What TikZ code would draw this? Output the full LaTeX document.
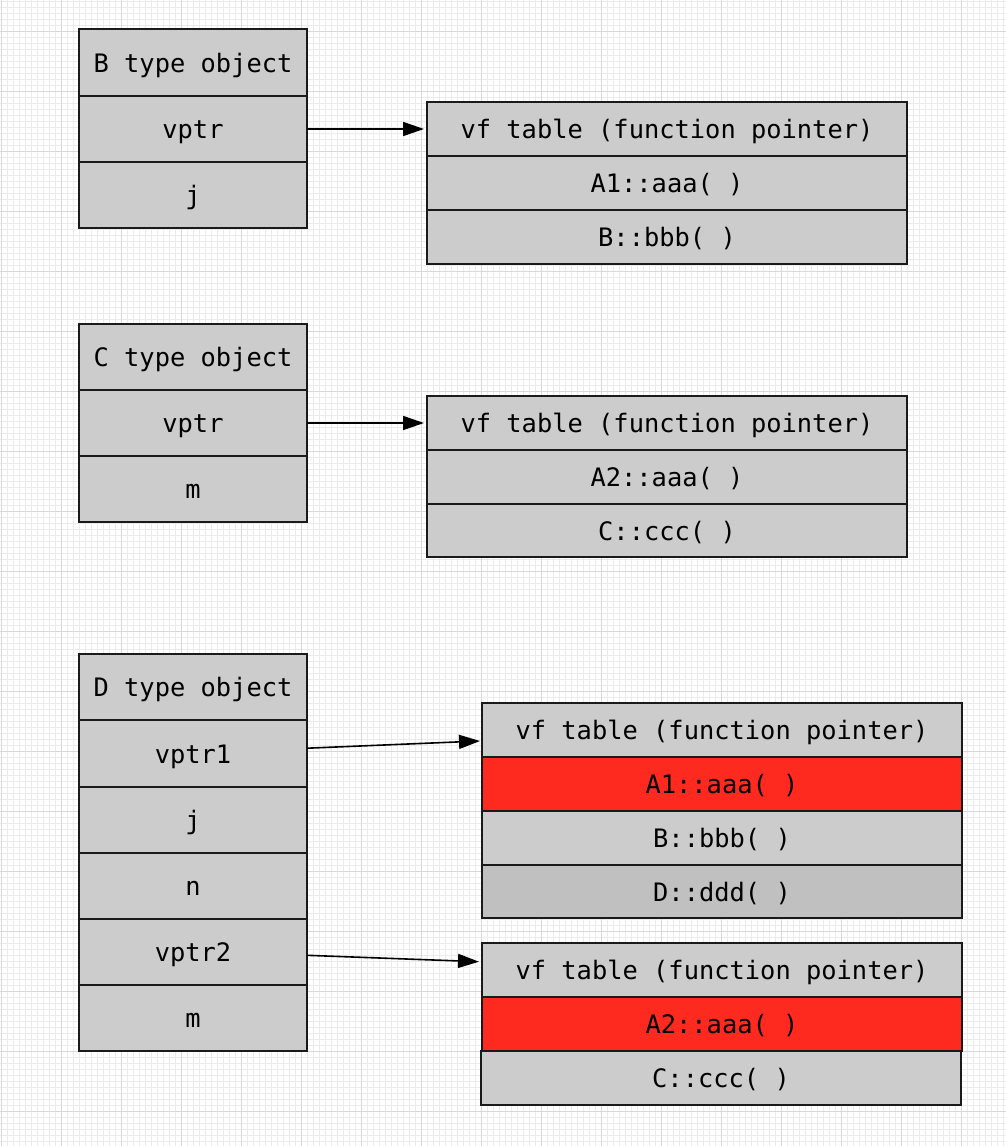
\documentclass[tikz,border=0pt]{standalone}
\usepackage{fontspec}
\setmonofont{DejaVu Sans Mono}
\usetikzlibrary{arrows.meta}
\definecolor{cellgray}{HTML}{CCCCCC}
\definecolor{cellgrayd}{HTML}{C0C0C0}
\definecolor{cellred}{HTML}{FF2A1F}
\definecolor{edgec}{HTML}{1A1A1A}
\definecolor{gridminor}{HTML}{EBEBEB}
\definecolor{gridmajor}{HTML}{D8D8D8}
\tikzset{
  cell/.style={draw=edgec, line width=1.8pt, fill=cellgray, rectangle, anchor=north west,
    inner sep=0pt, outer sep=0pt, font=\ttfamily\fontsize{25.4}{30}\selectfont,
    text height=20pt, text depth=1pt, align=center},
  objcell/.style={cell, minimum width=228pt, minimum height=66pt},
  tabcell/.style={cell, minimum width=480pt, minimum height=54pt},
  redcell/.style={fill=cellred},
  darkcell/.style={fill=cellgrayd},
  ptr/.style={draw=black, line width=1.6pt, -{Triangle[length=21pt,width=14pt]}}
}
\begin{document}
\begin{tikzpicture}[x=1pt,y=-1pt]
\useasboundingbox (0,0) rectangle (1006,1146);
\fill[white] (0,0) rectangle (1006,1146);
% grid
\foreach \i in {0,...,168} {\draw[gridminor, line width=1pt] ({6*\i+1.5},0) -- ({6*\i+1.5},1146);}
\foreach \i in {0,...,191} {\draw[gridminor, line width=1pt] (0,{6*\i+1}) -- (1006,{6*\i+1});}
\foreach \i in {0,...,16} {\draw[gridmajor, line width=1pt] ({60*\i+1.5},0) -- ({60*\i+1.5},1146);}
\foreach \i in {0,...,19} {\draw[gridmajor, line width=1pt] (0,{60*\i+31}) -- (1006,{60*\i+31});}

% B object
\node[objcell, minimum height=67pt] (b0) at (79,29) {B type object};
\node[objcell] (b1) at (79,96) {vptr};
\node[objcell] (b2) at (79,162) {j};
% B table
\node[tabcell] (tb0) at (427,102) {vf table (function pointer)};
\node[tabcell] (tb1) at (427,156) {A1::aaa( )};
\node[tabcell] (tb2) at (427,210) {B::bbb( )};
\draw[ptr] (b1.east) -- ([xshift=-3pt]tb0.west);

% C object
\node[objcell] (c0) at (79,324) {C type object};
\node[objcell] (c1) at (79,390) {vptr};
\node[objcell] (c2) at (79,456) {m};
% C table
\node[tabcell] (tc0) at (427,396) {vf table (function pointer)};
\node[tabcell] (tc1) at (427,450) {A2::aaa( )};
\node[tabcell, minimum height=53pt] (tc2) at (427,504) {C::ccc( )};
\draw[ptr] (c1.east) -- ([xshift=-3pt]tc0.west);

% D object
\node[objcell] (d0) at (79,654) {D type object};
\node[objcell, minimum height=67pt] (d1) at (79,720) {vptr1};
\node[objcell] (d2) at (79,787) {j};
\node[objcell] (d3) at (79,853) {n};
\node[objcell] (d4) at (79,919) {vptr2};
\node[objcell] (d5) at (79,985) {m};
% D table 1
\node[tabcell] (td0) at (482,703) {vf table (function pointer)};
\node[tabcell, redcell] (td1) at (482,757) {A1::aaa( )};
\node[tabcell] (td2) at (482,811) {B::bbb( )};
\node[tabcell, darkcell, minimum height=53pt] (td3) at (482,865) {D::ddd( )};
% D table 2
\node[tabcell] (te0) at (482,943) {vf table (function pointer)};
\node[tabcell, redcell] (te1) at (482,997) {A2::aaa( )};
\node[tabcell] (te2) at (481,1051) {C::ccc( )};
\draw[ptr] ([yshift=5.3pt]d1.east) -- ([xshift=-2pt,yshift=-11pt]td0.west);
\draw[ptr] ([yshift=-3.3pt]d4.east) -- ([xshift=-3pt,yshift=8.3pt]te0.west);
\end{tikzpicture}
\end{document}
